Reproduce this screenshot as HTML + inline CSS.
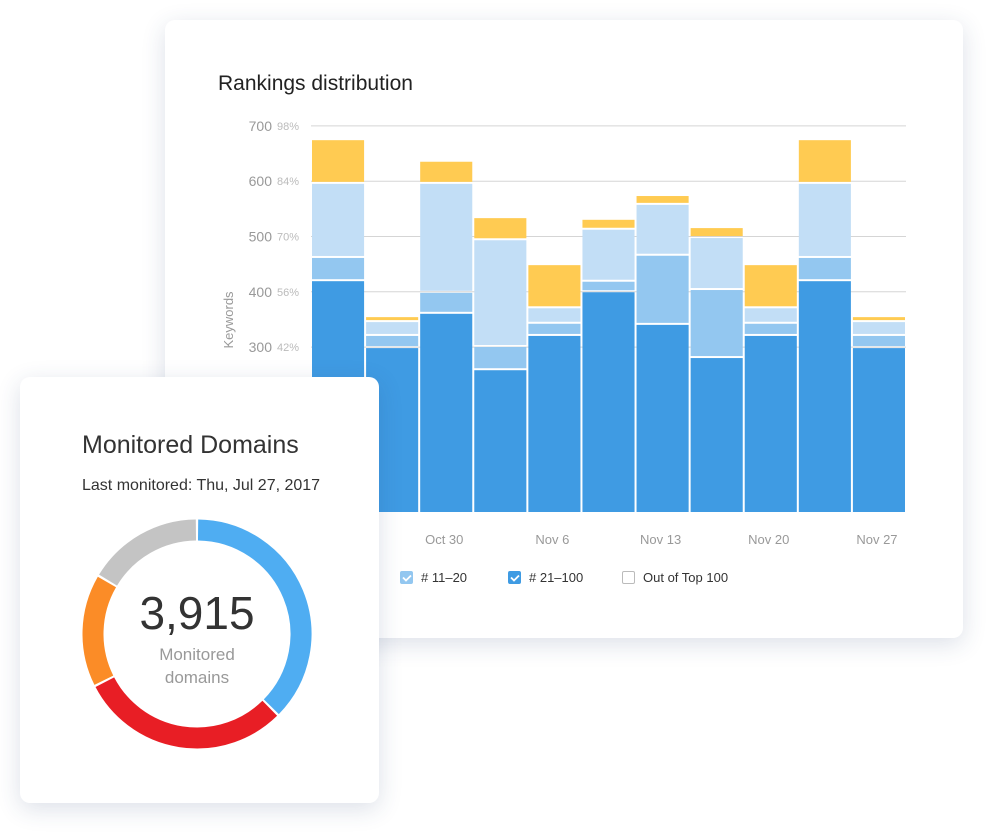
<!DOCTYPE html>
<html><head><meta charset="utf-8">
<style>
body{margin:0;width:992px;height:832px;background:#fff;font-family:"Liberation Sans","DejaVu Sans",sans-serif;position:relative;overflow:hidden}
.card{position:absolute;background:#fff;border-radius:10px;box-shadow:0 6px 24px rgba(40,60,110,0.16)}
</style></head><body>
<div class="card" style="left:165px;top:20px;width:798px;height:618px">
<svg id="bars" width="798" height="618" style="position:absolute;left:0;top:0"></svg>
</div>
<div class="card" style="left:20px;top:377px;width:359px;height:426px">
<svg id="donut" width="359" height="426" style="position:absolute;left:0;top:0"></svg>
</div>
<script>
const NS='http://www.w3.org/2000/svg';
const categories=['Oct 23','Oct 26','Oct 30','Nov 2','Nov 6','Nov 9','Nov 13','Nov 16','Nov 20','Nov 23','Nov 27'];
const top21_100=[421,300,362,260,322,401,342,282,322,421,300];
const top11_20=[42,22,38,42,22,19,125,123,22,42,22];
const top4_10=[134,25,197,193,28,94,92,94,28,134,25];
const outTop100=[79,9,40,40,78,18,16,18,78,79,9];
const yTicks=[300,400,500,600,700];
const pctTicks=['42%','56%','70%','84%','98%'];
const xLabels=['Oct 30','Nov 6','Nov 13','Nov 20','Nov 27'];
const xLabelIdx=[2,4,6,8,10];
const donutValues=[37.5,30,16,16.5];
const donutColors=['#4fadf2','#e81e25','#fb8c27','#c4c4c4'];
function el(p,t,a){const e=document.createElementNS(NS,t);for(const k in a)e.setAttribute(k,a[k]);p.appendChild(e);return e;}
const s=document.getElementById('bars');
const ox=165,oy=20;
const x0=311-ox,x1=906-ox,bw=(x1-x0)/categories.length;
const y=v=>513-oy-v*0.553;
const t=el(s,'text',{x:53,y:70,'font-size':21,fill:'#222'});t.textContent='Rankings distribution';

yTicks.forEach((v,i)=>{
 const g=el(s,'line',{x1:x0,x2:x1,y1:y(v),y2:y(v),stroke:'#d5d5d5','stroke-width':1});
 
 const a=el(s,'text',{x:107,y:y(v)+5,'text-anchor':'end','font-size':14,fill:'#999'});a.textContent=v;
 
 const b=el(s,'text',{x:112,y:y(v)+4,'font-size':11,fill:'#bbb'});b.textContent=pctTicks[i];
 
});
const kw=el(s,'text',{transform:'translate(68,300) rotate(-90)','text-anchor':'middle','font-size':13,fill:'#999'});kw.textContent='Keywords';

const series=[top21_100,top11_20,top4_10,outTop100];
const cols=['#3f9be3','#93c7f0','#c2def6','#ffcb52'];
categories.forEach((c,i)=>{
 let acc=0;
 series.forEach((ser,j)=>{
  const v=ser[i];
  const r=el(s,'rect',{x:x0+i*bw+1,y:y(acc+v)+1,width:bw-2,height:Math.max(0,y(acc)-y(acc+v)-2),fill:cols[j]});
  
  acc+=v;
 });
});
xLabels.forEach((l,k)=>{
 const i=xLabelIdx[k];
 const tx=el(s,'text',{x:x0+(i+0.5)*bw-2,y:524,'text-anchor':'middle','font-size':13,fill:'#999'});tx.textContent=l;
 
});
const leg=[['# 11–20','#93c7f0',true,235],['# 21–100','#3f9be3',true,343],['Out of Top 100','#fff',false,457]];
leg.forEach(L=>{
 const g=el(s,'g',{});
 
 el(g,'rect',{x:L[3]+0.5,y:551.5,width:12,height:12,rx:1.5,fill:L[1],stroke:L[2]?L[1]:'#bbb'});
 if(L[2])el(g,'path',{d:`M${L[3]+3} ${557.5} l3 3 l5 -5`,stroke:'#fff','stroke-width':1.8,fill:'none'});
 const tt=el(g,'text',{x:L[3]+21,y:562,'font-size':13,fill:'#333'});tt.textContent=L[0];
});
const d=document.getElementById('donut');
const cx=177,cy=257,R=104;
const tot=donutValues.reduce((a,b)=>a+b,0);
let a0=0;
donutValues.forEach((v,i)=>{
 const a1=a0+v/tot*360;
 const p=ang=>[cx+R*Math.sin(ang*Math.PI/180),cy-R*Math.cos(ang*Math.PI/180)];
 const s0=p(a0+0.6),s1=p(a1-0.6);
 const path=el(d,'path',{d:`M${s0[0]} ${s0[1]} A${R} ${R} 0 ${a1-a0>180?1:0} 1 ${s1[0]} ${s1[1]}`,stroke:donutColors[i],'stroke-width':21,fill:'none'});
 
 a0=a1;
});
const T=[['Monitored Domains',62,76,25,'#333'],['Last monitored: Thu, Jul 27, 2017',62,113,16,'#333']];
T.forEach(q=>{const e=el(d,'text',{x:q[1],y:q[2],'font-size':q[3],fill:q[4]});e.textContent=q[0];
 });
const n=el(d,'text',{x:cx,y:252,'text-anchor':'middle','font-size':46,fill:'#333'});n.textContent='3,915';

['Monitored','domains'].forEach((w,i)=>{const e=el(d,'text',{x:cx,y:283+i*23,'text-anchor':'middle','font-size':17,fill:'#999'});e.textContent=w;
 });
</script>
</body></html>
